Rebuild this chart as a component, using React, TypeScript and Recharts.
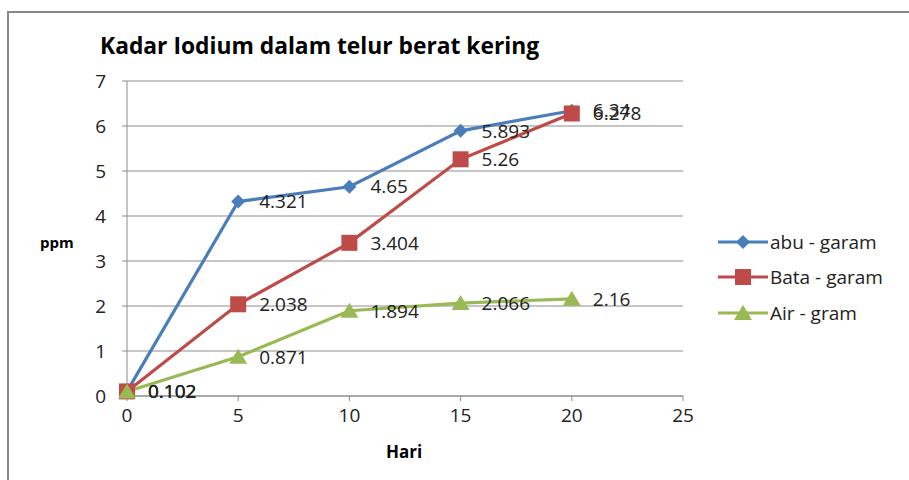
import * as React from "react"
import {
  LineChart, Line, XAxis, YAxis, CartesianGrid, LabelList,
} from "recharts"

const hari = [0, 5, 10, 15, 20]
const abuGaram = [0.102, 4.321, 4.65, 5.893, 6.34]
const bataGaram = [0.102, 2.038, 3.404, 5.26, 6.278]
const airGram = [0.102, 0.871, 1.894, 2.066, 2.16]
const xTicks = [0, 5, 10, 15, 20, 25]
const yTicks = [0, 1, 2, 3, 4, 5, 6, 7]

const BLUE = "#4a7ebb"
const RED = "#be4b48"
const GREEN = "#98b954"
const FONT = "'Open Sans', 'Liberation Sans', sans-serif"

const data = hari.map((h, i) => ({
  hari: h,
  abu: abuGaram[i],
  bata: bataGaram[i],
  air: airGram[i],
}))

const series = [
  { key: "abu", name: "abu - garam", color: BLUE, shape: "diamond" },
  { key: "bata", name: "Bata - garam", color: RED, shape: "square" },
  { key: "air", name: "Air - gram", color: GREEN, shape: "triangle" },
]

function Marker({ cx, cy, shape, color }: { cx: number; cy: number; shape: string; color: string }) {
  if (cx == null || cy == null) return null
  if (shape === "diamond") {
    const r = 7
    return <path d={`M${cx},${cy - r}L${cx + r},${cy}L${cx},${cy + r}L${cx - r},${cy}Z`} fill={color} />
  }
  if (shape === "square") {
    const r = 8
    return <rect x={cx - r} y={cy - r} width={2 * r} height={2 * r} fill={color} />
  }
  const r = 8
  return <path d={`M${cx},${cy - r}L${cx + r + 1},${cy + r - 1}L${cx - r - 1},${cy + r - 1}Z`} fill={color} />
}

// legend drawn by hand so it doesn't squeeze the plot area
const ChartLegend = () => (
  <div style={{ position: "absolute", left: 716, top: 224, fontFamily: FONT, fontSize: 19, color: "#222" }}>
    {series.map((s) => (
      <div key={s.key} style={{ display: "flex", alignItems: "center", height: 35.5 }}>
        <svg width={54} height={20}>
          <line x1={2} y1={10} x2={52} y2={10} stroke={s.color} strokeWidth={3} />
          <Marker cx={27} cy={10} shape={s.shape} color={s.color} />
        </svg>
        <span>{s.name}</span>
      </div>
    ))}
  </div>
)

export default function App() {
  return (
    <div style={{ position: "absolute", left: 0, top: 0, width: 909, height: 480, background: "#fff", overflow: "hidden" }}>
      <div style={{ position: "absolute", left: 7, top: 11, width: 920, height: 480, borderLeft: "2px solid #878787", borderTop: "2px solid #878787" }} />
      <div style={{ position: "absolute", left: 100, top: 30, fontFamily: FONT, fontWeight: 700, fontSize: 22.8, color: "#000" }}>
        Kadar Iodium dalam telur berat kering
      </div>
      <div style={{ position: "absolute", left: 40, top: 232, fontFamily: FONT, fontWeight: 700, fontSize: 15, color: "#000" }}>
        ppm
      </div>
      <div style={{ position: "absolute", left: 386, top: 440, fontFamily: FONT, fontWeight: 700, fontSize: 17, color: "#000" }}>
        Hari
      </div>
      <div style={{ position: "absolute", left: 0, top: 0 }}>
        <LineChart width={909} height={480} data={data} margin={{ top: 81, right: 226, bottom: 0, left: 77 }}>
          <CartesianGrid horizontal vertical={false} stroke="#8c8c8c" strokeWidth={1} />
          <XAxis
            dataKey="hari"
            type="number"
            domain={[0, 25]}
            ticks={xTicks}
            interval={0}
            height={84}
            stroke="#8c8c8c"
            tickSize={5}
            tickMargin={8}
            tick={{ fontSize: 19, fill: "#222", fontFamily: FONT }}
          />
          <YAxis
            type="number"
            domain={[0, 7]}
            ticks={yTicks}
            interval={0}
            width={50}
            stroke="#8c8c8c"
            tickSize={5}
            tickMargin={16}
            tick={{ fontSize: 19, fill: "#222", fontFamily: FONT }}
          />
          {series.map((s) => (
            <Line
              key={s.key}
              dataKey={s.key}
              name={s.name}
              stroke={s.color}
              strokeWidth={3.2}
              isAnimationActive={false}
              // eslint-disable-next-line @typescript-eslint/no-explicit-any
              dot={(p: any) => <Marker key={`${s.key}-${p.index}`} cx={p.cx} cy={p.cy} shape={s.shape} color={s.color} />}
              activeDot={false}
            >
              <LabelList
                dataKey={s.key}
                position="right"
                offset={21}
                style={{ fontSize: 19, fill: "#222", fontFamily: FONT }}
              />
            </Line>
          ))}
        </LineChart>
      </div>
      <ChartLegend />
    </div>
  )
}
